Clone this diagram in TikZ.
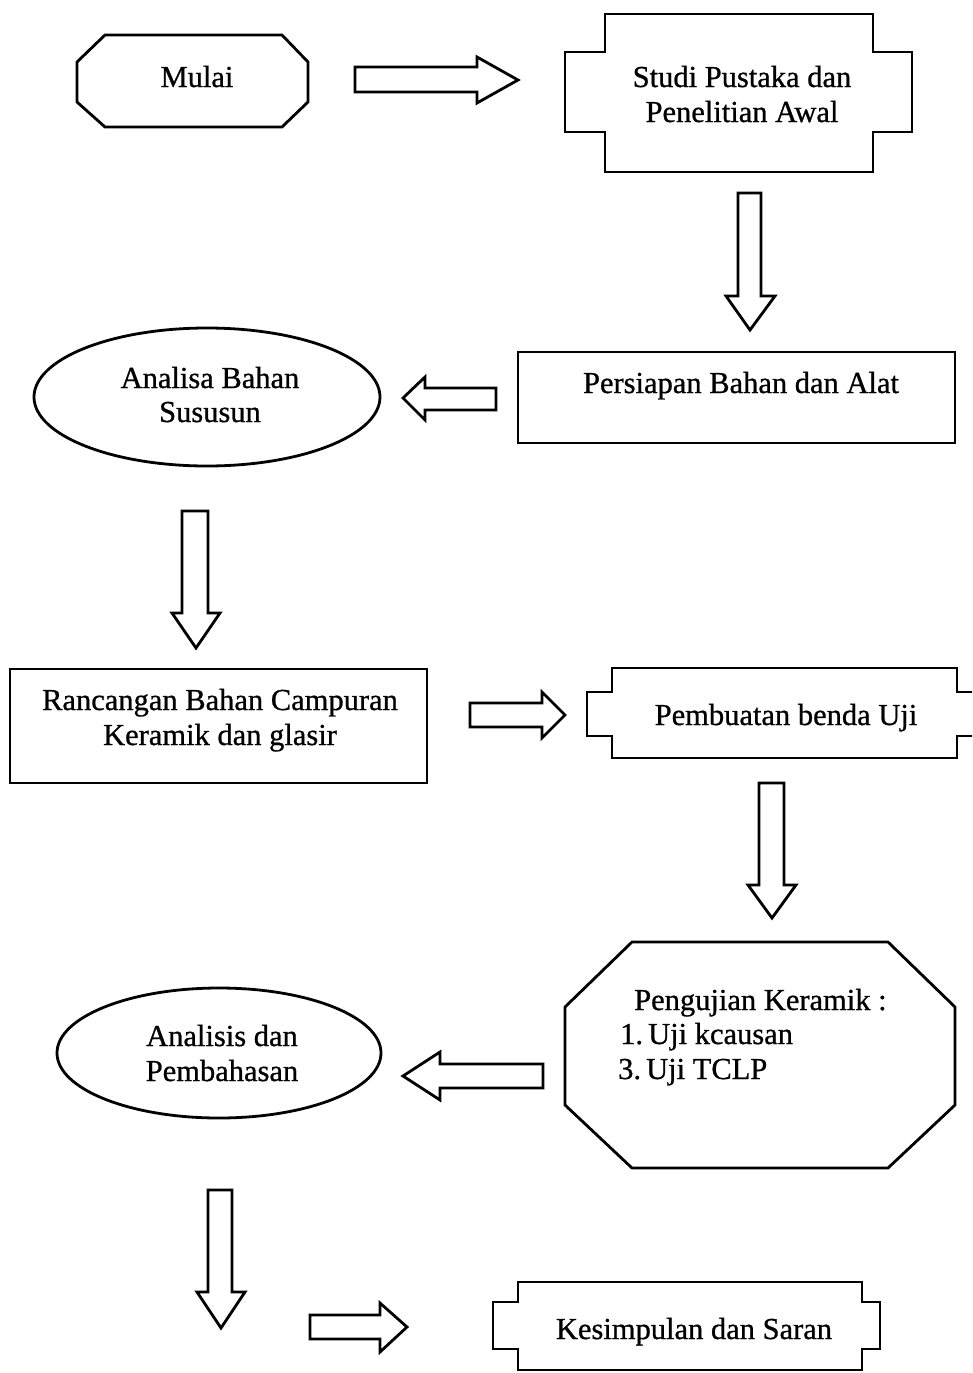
\documentclass[tikz,border=0pt]{standalone}
\usepackage{fontspec}
\setmainfont{Liberation Serif}[BoldFont=Liberation Serif,BoldFeatures={FakeBold=0.8}]
\begin{document}
\begin{tikzpicture}[x=1pt,y=-1pt,
  shp/.style={draw=black,line width=2.8pt,line join=miter,fill=white},
  barrow/.style={draw=black,line width=2.8pt,line join=miter,fill=white},
  txt/.style={inner sep=0pt,anchor=base,font=\fontsize{30.5}{35}\selectfont\bfseries},
  txtl/.style={inner sep=0pt,anchor=base west,font=\fontsize{30.5}{35}\selectfont\bfseries}]
\useasboundingbox (0,0) rectangle (972,1373);
\clip (0,0) rectangle (972,1373);
\fill[white] (0,0) rectangle (972,1373);

% Mulai
\draw[shp] (105,35) -- (282,35) -- (308,62) -- (308,102) -- (282,127) -- (105,127) -- (77,102) -- (77,62) -- cycle;
\node[txt] (mulai) at (197,87) {Mulai};

% arrow Mulai -> Studi
\draw[barrow] (355,67) -- (477,67) -- (477,57) -- (518,80) -- (477,103) -- (477,92) -- (355,92) -- cycle;

% Studi Pustaka
\draw[shp] (605,14) -- (873,14) -- (873,52) -- (912,52) -- (912,132) -- (873,132) -- (873,172) -- (605,172) -- (605,132) -- (565,132) -- (565,52) -- (605,52) -- cycle;
\node[txt] (studi1) at (742,87) {Studi Pustaka dan};
\node[txt] (studi2) at (742,122) {Penelitian Awal};

% arrow down
\draw[barrow] (738,193) -- (761,193) -- (761,296) -- (775,296) -- (750,330) -- (726,296) -- (738,296) -- cycle;

% Persiapan
\draw[shp] (518,352) rectangle (955,443);
\node[txt] (persiapan) at (741,393) {Persiapan Bahan dan Alat};

% arrow left
\draw[barrow] (496,388) -- (496,410) -- (425,410) -- (425,420) -- (403,398) -- (425,377) -- (425,388) -- cycle;

% Analisa ellipse
\draw[shp] (207,397) ellipse [x radius=173, y radius=69];
\node[txt] (analisa1) at (210,388) {Analisa Bahan};
\node[txt] (analisa2) at (210,422) {Sususun};

% arrow down
\draw[barrow] (182,511) -- (208,511) -- (208,613) -- (220,613) -- (196,648) -- (172,613) -- (182,613) -- cycle;

% Rancangan
\draw[shp] (10,669) rectangle (427,783);
\node[txt] (rancangan1) at (220,710) {Rancangan Bahan Campuran};
\node[txt] (rancangan2) at (220,745) {Keramik dan glasir};

% arrow right
\draw[barrow] (470,703) -- (542,703) -- (542,692) -- (565,715) -- (542,738) -- (542,727) -- (470,727) -- cycle;

% Pembuatan
\draw[shp] (612,668) -- (957,668) -- (957,692) -- (985,692) -- (985,736) -- (957,736) -- (957,758) -- (612,758) -- (612,736) -- (587,736) -- (587,692) -- (612,692) -- cycle;
\node[txt] (pembuatan) at (786,725) {Pembuatan benda Uji};

% arrow down
\draw[barrow] (759,783) -- (784,783) -- (784,885) -- (796,885) -- (772,918) -- (748,885) -- (759,885) -- cycle;

% Pengujian octagon
\draw[shp] (632,942) -- (888,942) -- (955,1007) -- (955,1105) -- (888,1168) -- (632,1168) -- (565,1105) -- (565,1007) -- cycle;
\node[txtl] (uji0) at (634,1010) {Pengujian Keramik :};
\node[txtl] (uji1) at (620,1044) {1.\,Uji kcausan};
\node[txtl] (uji3) at (618,1079) {3.\,Uji TCLP};

% arrow left
\draw[barrow] (543,1064) -- (543,1088) -- (440,1088) -- (440,1100) -- (403,1076) -- (440,1052) -- (440,1064) -- cycle;

% Analisis ellipse
\draw[shp] (219,1053) ellipse [x radius=162, y radius=65];
\node[txt] (analisis1) at (222,1046) {Analisis dan};
\node[txt] (analisis2) at (222,1081) {Pembahasan};

% arrow down
\draw[barrow] (208,1190) -- (232,1190) -- (232,1292) -- (245,1292) -- (221,1328) -- (197,1292) -- (208,1292) -- cycle;

% arrow right
\draw[barrow] (310,1315) -- (380,1315) -- (380,1303) -- (407,1327) -- (380,1352) -- (380,1339) -- (310,1339) -- cycle;

% Kesimpulan
\draw[shp] (518,1282) -- (862,1282) -- (862,1302) -- (880,1302) -- (880,1349) -- (862,1349) -- (862,1370) -- (518,1370) -- (518,1349) -- (493,1349) -- (493,1302) -- (518,1302) -- cycle;
\node[txt] (kesimpulan) at (694,1339) {Kesimpulan dan Saran};
\end{tikzpicture}
\end{document}
